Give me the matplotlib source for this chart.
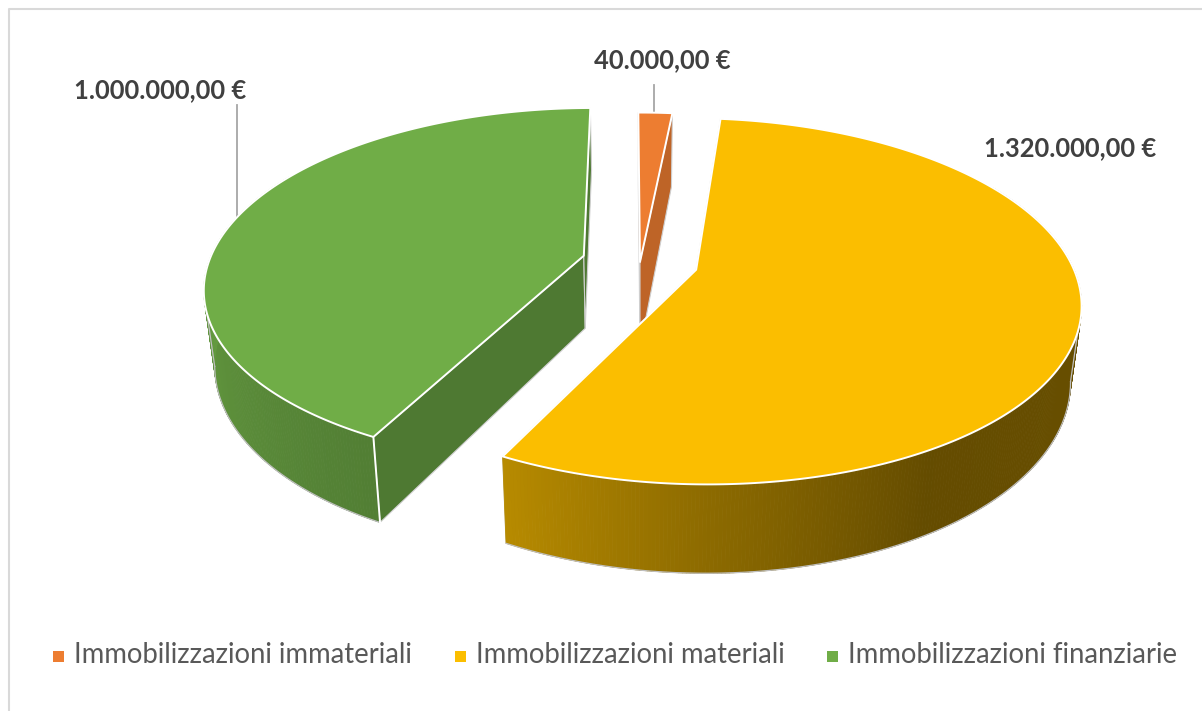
import numpy as np
import matplotlib
matplotlib.use("Agg")
import matplotlib.pyplot as plt
from matplotlib.collections import PolyCollection
from matplotlib.patches import Polygon, Rectangle

plt.rcParams["font.family"] = ["Lato", "DejaVu Sans"]

# -----------------------
# DATA
# -----------------------
categories = ["Immobilizzazioni immateriali", "Immobilizzazioni materiali", "Immobilizzazioni finanziarie"]
values = [40000, 1320000, 1000000]
value_labels = ["40.000,00 €", "1.320.000,00 €", "1.000.000,00 €"]
colors = ["#ED7D31", "#FBBE00", "#70AD47"]
explode = [0.0, 0.155, 0.155]
depth_scale = [1.18, 1.0, 1.0]

# -----------------------
# 3D PIE SETUP (pixels on screen)
# -----------------------
OX, OY = 640, 262
START_ANGLE = -0.3
A, B = 375, 175       # horizontal / vertical radius
K = 0.171             # perspective
DEPTH = 73            # thickness of the pie
SHRINK = 0.025        # sides lean inwards going down
LIGHT_ANG = [0, 90, 150, 180, 207, 270, 360]
LIGHT_VAL = [0.42, 0.42, 0.40, 0.56, 0.73, 0.90, 0.90]


def project(x, y, z=0.0):
    w = 1 + K * y
    return OX + A * x / w * (1 - SHRINK * z), OY - B * y / w + DEPTH * z / w


def shade(col, f):
    return tuple(c * f for c in matplotlib.colors.to_rgb(col))


fig = plt.figure(figsize=(12.02, 7.11), dpi=100)
ax = fig.add_axes([0, 0, 1, 1])
ax.set_xlim(0, 1202)
ax.set_ylim(711, 0)
ax.axis("off")

# chart border
ax.plot([9, 9, 1202], [711, 9, 9], color="#D9D9D9", lw=1.5, zorder=1)

fracs = np.array(values) / sum(values)
starts = np.concatenate([[0], np.cumsum(fracs)[:-1]]) * 360 + START_ANGLE
ends = np.cumsum(fracs) * 360 + START_ANGLE


def draw_slice(i, z):
    a0, a1 = starts[i], ends[i]
    col = colors[i]
    zb = depth_scale[i]
    mid = np.radians((a0 + a1) / 2)
    dx, dy = explode[i] * np.sin(mid), explode[i] * np.cos(mid)
    t = np.radians(np.linspace(a0, a1, max(int(a1 - a0) * 2, 12)))
    rx, ry = np.sin(t) + dx, np.cos(t) + dy

    # cut faces first
    wall = 0.80 if i == 0 else 0.70
    for r_x, r_y in [(rx[0], ry[0]), (rx[-1], ry[-1])]:
        pts = [project(dx, dy), project(r_x, r_y), project(r_x, r_y, zb), project(dx, dy, zb)]
        ax.add_patch(Polygon(pts, closed=True, fc=shade(col, wall), ec="#CFCFCF", lw=0.8, zorder=z))

    # outer side, a bit past the part that looks at us so the outline stays smooth
    quads, shades = [], []
    for j in range(len(t) - 1):
        ang = np.degrees((t[j] + t[j + 1]) / 2)
        if not 60 < ang < 300:
            continue
        quads.append([project(rx[j], ry[j]), project(rx[j + 1], ry[j + 1]),
                      project(rx[j + 1], ry[j + 1], zb), project(rx[j], ry[j], zb)])
        shades.append(shade(col, np.interp(ang, LIGHT_ANG, LIGHT_VAL)))
    if quads:
        ax.add_collection(PolyCollection(quads, facecolors=shades, edgecolors=shades, lw=0.6, zorder=z + 0.1))

        # outline below the side: from the corner to where the arc turns back
        tx, ty = project(rx, ry)
        bx, by = project(rx, ry, zb)
        if i == 1:
            n_top, n_bot = np.argmax(tx), np.argmax(bx)
            part = slice(n_bot, None)
        else:
            n_top, n_bot = np.argmin(tx), np.argmin(bx)
            part = slice(0, n_bot + 1)
        ax.plot(bx[part], by[part], color="#BFBFBF", lw=0.9, zorder=z + 0.15)
        ax.plot([tx[n_top], bx[n_bot]], [ty[n_top], by[n_bot]], color="#BFBFBF", lw=0.9, zorder=z + 0.15)

        # white corner line
        if i == 2:
            p0, p1 = project(rx[0], ry[0]), project(rx[0], ry[0], zb)
            ax.plot([p0[0], p1[0]], [p0[1], p1[1]], color="white", lw=1.4, zorder=z + 0.2)

    # top face
    top = [project(dx, dy)] + [project(a, b) for a, b in zip(rx, ry)]
    ax.add_patch(Polygon(top, closed=True, fc=col, ec="white", lw=1.4, joinstyle="round", zorder=z + 0.3))


draw_slice(2, 3)
draw_slice(0, 4)
draw_slice(1, 5)

# leader lines
ax.plot([654, 654], [85, 115], color="#A6A6A6", lw=1.3, zorder=2)
ax.plot([237, 237], [105, 220], color="#A6A6A6", lw=1.3, zorder=2)

# value labels
label_pos = [(662, 60), (1070, 148), (160, 90)]
for txt, (lx, ly) in zip(value_labels, label_pos):
    ax.text(lx, ly, txt, ha="center", va="center", fontsize=18.4, fontweight="bold", color="#404040", zorder=8)

# legend
legend_x = [53, 455, 827]
for name, col, lx in zip(categories, colors, legend_x):
    ax.add_patch(Rectangle((lx, 651), 11, 11, fc=col, ec="none", zorder=8))
    ax.text(lx + 21, 655, name, ha="left", va="center", fontsize=19.8, color="#595959", zorder=8)

fig.savefig("out.png", dpi=100)
